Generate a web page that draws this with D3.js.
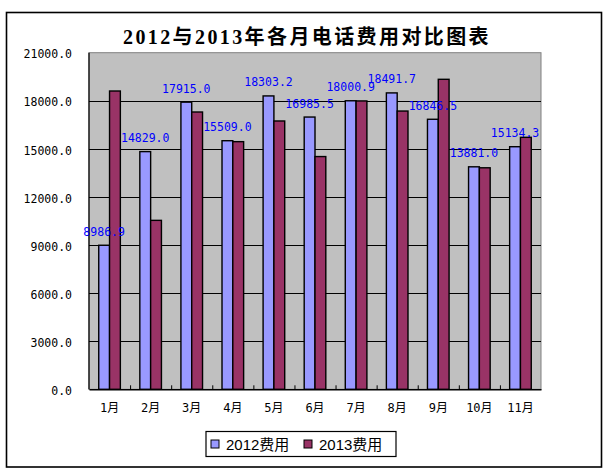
<!DOCTYPE html>
<html><head><meta charset="utf-8">
<script src="https://cdn.jsdelivr.net/npm/d3@7"></script>
<style>html,body{margin:0;padding:0;background:#fff;}</style>
</head><body>
<script>
const categories = ["1月","2月","3月","4月","5月","6月","7月","8月","9月","10月","11月"];
const fee2012 = [8986.9, 14829.0, 17915.0, 15509.0, 18303.2, 16985.5, 18000.9, 18491.7, 16846.5, 13881.0, 15134.3];
const fee2013 = [18610, 10540, 17300, 15450, 16740, 14520, 17990, 17360, 19340, 13820, 15720];
const seriesNames = ["2012费用","2013费用"];
const yTicks = [0, 3000, 6000, 9000, 12000, 15000, 18000, 21000];
const titleText = "2012与2013年各月电话费用对比图表";

const W = 613, H = 473;
const colors = ["#9999FF", "#993366"];
const svg = d3.select("body").append("svg").attr("width", W).attr("height", H)
  .style("display","block");
svg.append("rect").attr("width", W).attr("height", H).attr("fill", "#fff");

// chart outer border
svg.append("rect").attr("x", 6.5).attr("y", 12.5).attr("width", 595).attr("height", 454.5)
  .attr("fill", "#fff").attr("stroke", "#000").attr("stroke-width", 1.6);

const plot = {l: 89, r: 541, t: 52.7, b: 389.3};
const x = d3.scaleBand().domain(categories).range([plot.l, plot.r]).padding(0);
const y = d3.scaleLinear().domain([0, 21000]).range([plot.b, plot.t]);

// plot background
svg.append("rect").attr("x", plot.l).attr("y", plot.t).attr("width", plot.r - plot.l)
  .attr("height", plot.b - plot.t).attr("fill", "#C0C0C0").attr("stroke", "#808080").attr("stroke-width", 1);

// gridlines
svg.append("g").selectAll("line").data(yTicks.filter(d => d > 0 && d < 21000)).join("line")
  .attr("x1", plot.l).attr("x2", plot.r).attr("y1", d => Math.round(y(d)) + 0.5).attr("y2", d => Math.round(y(d)) + 0.5)
  .attr("stroke", "#000").attr("stroke-width", 1);

// y axis labels
const yAxis = d3.axisLeft(y).tickValues(yTicks).tickFormat(d3.format(".1f")).tickSize(0).tickPadding(17);
const yg = svg.append("g").attr("transform", `translate(${plot.l},0)`).call(yAxis);
yg.select(".domain").remove();
yg.selectAll("text").attr("font-family", "'DejaVu Sans Mono', monospace").attr("font-size", "11.5px")
  .attr("fill", "#000").attr("dy", "0.45em");

// bars
const bw = x.bandwidth() * 0.263;
const barsG = svg.append("g");
const data = categories.map((c, i) => ({c, v: [fee2012[i], fee2013[i]]}));
[0, 1].forEach(s => {
  barsG.append("g").selectAll("rect").data(data).join("rect")
    .attr("x", d => x(d.c) + x.bandwidth() / 2 - bw + s * bw)
    .attr("y", d => y(d.v[s]))
    .attr("width", bw)
    .attr("height", d => y(0) - y(d.v[s]))
    .attr("fill", colors[s]).attr("stroke", "#000").attr("stroke-width", 1.4);
});

// left axis line and x axis
svg.append("line").attr("x1", plot.l).attr("x2", plot.l).attr("y1", plot.t).attr("y2", plot.b)
  .attr("stroke", "#000").attr("stroke-width", 1.2);
const xAxis = d3.axisBottom(x).tickSize(0).tickPadding(14);
const xg = svg.append("g").attr("transform", `translate(0,${plot.b})`).call(xAxis);
xg.select(".domain").attr("stroke", "#000").attr("stroke-width", 1.4);
xg.selectAll("text").attr("font-family", "'DejaVu Sans Mono', 'Noto Sans CJK SC', monospace")
  .attr("font-size", "12px").attr("fill", "#000");
// category boundary ticks
svg.append("g").selectAll("line").data(categories.slice(1)).join("line")
  .attr("x1", d => x(d) + 0.5).attr("x2", d => x(d) + 0.5).attr("y1", plot.b - 4).attr("y2", plot.b)
  .attr("stroke", "#000").attr("stroke-width", 1);

// data labels for 2012 series
svg.append("g").selectAll("text").data(data).join("text")
  .attr("x", d => x(d.c) + x.bandwidth() / 2 - bw / 2)
  .attr("y", d => y(d.v[0]) - 9.5)
  .attr("text-anchor", "middle")
  .attr("font-family", "'DejaVu Sans Mono', monospace").attr("font-size", "11.5px")
  .attr("fill", "#0000FF")
  .text(d => d3.format(".1f")(d.v[0]));

// title
svg.append("text").attr("x", 307).attr("y", 44).attr("text-anchor", "middle")
  .attr("font-family", "'Liberation Serif', 'Noto Sans CJK SC', serif").attr("font-weight", "bold")
  .attr("font-size", "20px").attr("letter-spacing", "2.4px").attr("fill", "#000")
  .text(titleText);

// legend
const lg = svg.append("g");
lg.append("rect").attr("x", 206).attr("y", 431.5).attr("width", 190).attr("height", 25)
  .attr("fill", "#fff").attr("stroke", "#000").attr("stroke-width", 1.2);
const legendX = [211, 304];
seriesNames.forEach((n, i) => {
  lg.append("rect").attr("x", legendX[i]).attr("y", 440).attr("width", 8).attr("height", 8)
    .attr("fill", colors[i]).attr("stroke", "#000").attr("stroke-width", 1);
  lg.append("text").attr("x", legendX[i] + 15).attr("y", 449.5)
    .attr("font-family", "'Liberation Sans', 'Noto Sans CJK SC', sans-serif").attr("font-size", "15px")
    .attr("fill", "#000").text(n);
});
</script>
</body></html>
